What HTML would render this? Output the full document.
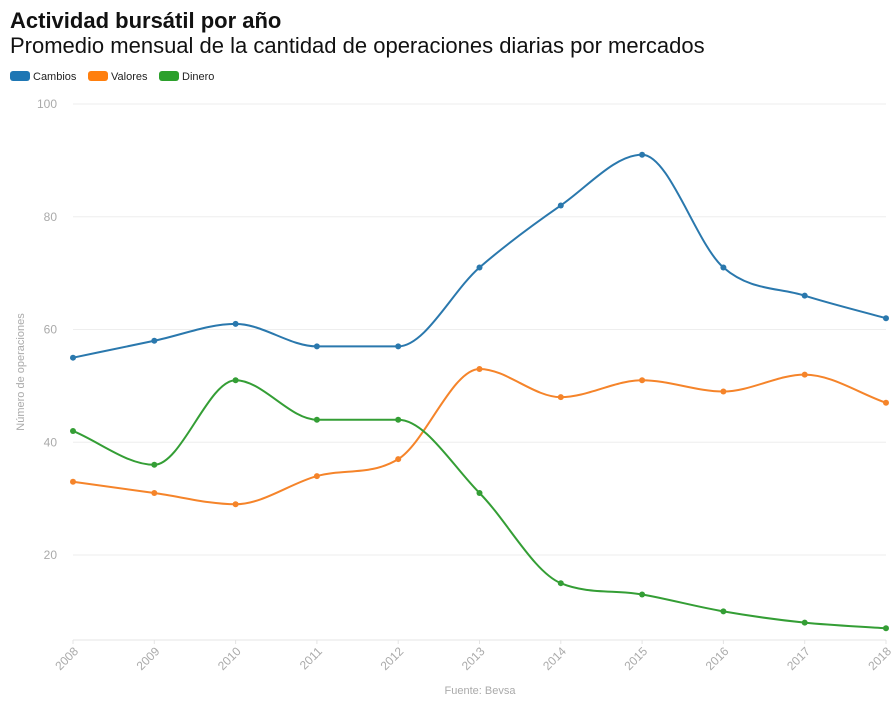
<!DOCTYPE html>
<html><head><meta charset="utf-8"><style>
body{margin:0;background:#fff;font-family:"Liberation Sans",sans-serif;}
</style></head><body>
<svg id="s" width="896" height="719" xmlns="http://www.w3.org/2000/svg" font-family="Liberation Sans, sans-serif">
<text x="10" y="28" font-size="22" font-weight="bold" fill="#111">Actividad bursátil por año</text>
<text x="10" y="53" font-size="22" fill="#111">Promedio mensual de la cantidad de operaciones diarias por mercados</text>
<rect x="10" y="71" width="20" height="10" rx="3" fill="#1f77b4"/><text x="33" y="80" font-size="11" fill="#222">Cambios</text>
<rect x="88" y="71" width="20" height="10" rx="3" fill="#ff7f0e"/><text x="111" y="80" font-size="11" fill="#222">Valores</text>
<rect x="159" y="71" width="20" height="10" rx="3" fill="#2ca02c"/><text x="182" y="80" font-size="11" fill="#222">Dinero</text>
<g id="grid"></g>
<text transform="translate(24,372) rotate(-90)" text-anchor="middle" font-size="11" fill="#aaa">Número de operaciones</text>
<text x="480" y="694" text-anchor="middle" font-size="11" fill="#aaa">Fuente: Bevsa</text>
<g id="lines"></g>
</svg>
<script>
function X(i){return 73+i*81.3;}
function Y(v){return 555-(v-20)*5.6375;}
var g=document.getElementById('grid'),h='';
[20,40,60,80,100].forEach(function(v){h+='<line x1="73" x2="886" y1="'+Y(v)+'" y2="'+Y(v)+'" stroke="#eee"/><text x="57" y="'+(Y(v)+4)+'" text-anchor="end" font-size="12" fill="#aaa">'+v+'</text>';});
h+='<line x1="73" x2="886" y1="640" y2="640" stroke="#e4e4e4"/>';
for(var i=0;i<11;i++){var x=X(i);h+='<line x1="'+x+'" x2="'+x+'" y1="640" y2="644" stroke="#e4e4e4"/><text transform="translate('+(x+6)+',652) rotate(-45)" text-anchor="end" font-size="12" fill="#aaa">'+(2008+i)+'</text>';}
g.innerHTML=h;
function mono(pts){var n=pts.length,d=[],m=[];for(var i=0;i<n-1;i++)d.push((pts[i+1][1]-pts[i][1])/(pts[i+1][0]-pts[i][0]));
m[0]=d[0];m[n-1]=d[n-2];for(i=1;i<n-1;i++){if(d[i-1]*d[i]<=0)m[i]=0;else{m[i]=(d[i-1]+d[i])/2;var a=m[i]/d[i-1],b=m[i]/d[i],s=a*a+b*b;if(s>9){var t=3/Math.sqrt(s);m[i]=t*a*d[i-1];}}}
var p='M'+pts[0][0]+','+pts[0][1];for(i=0;i<n-1;i++){var h=(pts[i+1][0]-pts[i][0])/3;p+='C'+(pts[i][0]+h)+','+(pts[i][1]+m[i]*h)+' '+(pts[i+1][0]-h)+','+(pts[i+1][1]-m[i+1]*h)+' '+pts[i+1][0]+','+pts[i+1][1];}return p;}
var S=[["#2a78ad",[55,58,61,57,57,71,82,91,71,66,62]],["#f5842a",[33,31,29,34,37,53,48,51,49,52,47]],["#349e35",[42,36,51,44,44,31,15,13,10,8,7]]];
var L='';S.forEach(function(s){var pts=s[1].map(function(v,i){return [X(i),Y(v)];});L+='<path d="'+mono(pts)+'" fill="none" stroke="'+s[0]+'" stroke-width="2"/>';pts.forEach(function(p){L+='<circle cx="'+p[0]+'" cy="'+p[1]+'" r="3" fill="'+s[0]+'"/>';});});
document.getElementById('lines').innerHTML=L;
</script>
</body></html>
